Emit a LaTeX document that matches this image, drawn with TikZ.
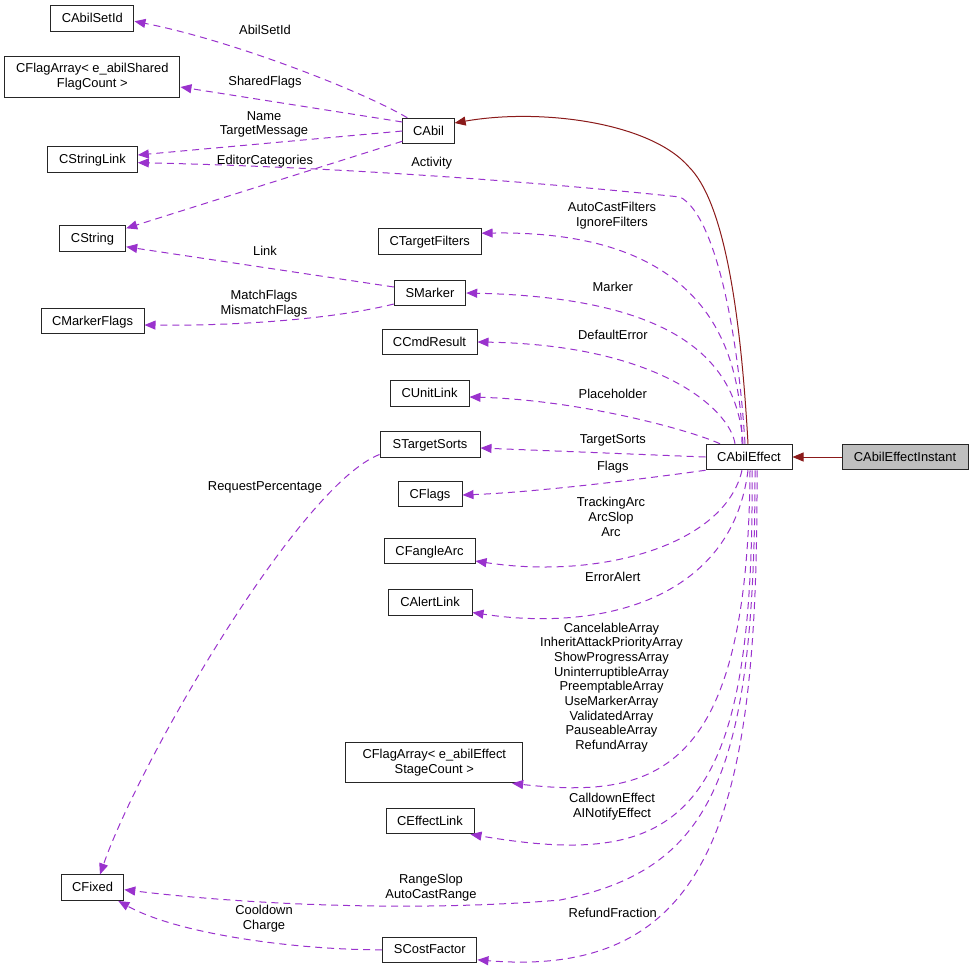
\documentclass[tikz,border=0pt]{standalone}
\usepackage{fontspec}
\setmainfont{Liberation Sans}
\usetikzlibrary{arrows.meta}
\definecolor{membercol}{HTML}{9A32CD}
\definecolor{basecol}{HTML}{8B1A1A}
\newcommand{\dfont}{\fontsize{12.9}{14.7}\selectfont}
\tikzset{
  cls/.style={draw=black!85, line width=1pt, minimum height=25.5pt, inner sep=1pt, align=center, text depth=1pt, font=\dfont},
  cls2/.style={cls, minimum height=40.6pt, text depth=},
  lbl/.style={inner sep=0pt, align=center, font=\dfont},
  usage/.style={membercol, line width=1pt, dash pattern=on 7pt off 5pt, -{Triangle[length=11pt,width=9pt]}},
  inherit/.style={basecol, line width=1pt, -{Triangle[length=11pt,width=9pt]}},
}

\begin{document}
\begin{tikzpicture}[x=1pt,y=-1pt]
\useasboundingbox (0,0) rectangle (973,971);
% classes, left column
\node[cls, minimum width=83.3] (abilsetid) at (92.3,18.3) {CAbilSetId};
\node[cls2, minimum width=175.3] (flagshared) at (92.3,77) {CFlagArray< e\_abilShared\\FlagCount >};
\node[cls, minimum width=89.6] (stringlink) at (92.5,159.7) {CStringLink};
\node[cls, minimum width=66.4] (cstring) at (92.5,238.3) {CString};
\node[cls, minimum width=103] (markerflags) at (92.5,321) {CMarkerFlags};
\node[cls, minimum width=62.6] (cfixed) at (92.5,887.7) {CFixed};
% classes, middle column
\node[cls, minimum width=51.3] (abil) at (428.5,131) {CAbil};
\node[cls, minimum width=102.7] (targetfilters) at (429.7,241.7) {CTargetFilters};
\node[cls, minimum width=71.4] (smarker) at (430,293) {SMarker};
\node[cls, minimum width=95] (cmdresult) at (429.5,342) {CCmdResult};
\node[cls, minimum width=79] (unitlink) at (429.5,393.5) {CUnitLink};
\node[cls, minimum width=100] (targetsorts) at (430,444.5) {STargetSorts};
\node[cls, minimum width=64] (cflags) at (430,494) {CFlags};
\node[cls, minimum width=91] (fanglearc) at (429.5,551) {CFangleArc};
\node[cls, minimum width=84] (alertlink) at (430,602.5) {CAlertLink};
\node[cls2, minimum width=176.7] (flageffect) at (434.3,762.5) {CFlagArray< e\_abilEffect\\StageCount >};
\node[cls, minimum width=88] (effectlink) at (430,821) {CEffectLink};
\node[cls, minimum width=94.3] (costfactor) at (429.8,949.8) {SCostFactor};
% classes, right
\node[cls, minimum width=86] (abileffect) at (749,457) {CAbilEffect};
\node[cls, minimum width=126, fill=black!25] (effectinstant) at (905,457) {CAbilEffectInstant};

% inheritance
\draw[inherit] (effectinstant) -- (abileffect);
\draw[inherit] ([xshift=-1]abileffect.north) .. controls (740,300) and (722,200) .. (689,167)
  .. controls (650,122) and (540,108) .. ([yshift=8]abil.east);

% members of CAbil
\draw[usage] ([xshift=5]abil.north west) .. controls (360,90) and (230,40) .. ([yshift=-3]abilsetid.east);
\draw[usage] ([yshift=9]abil.west) -- ([yshift=-10]flagshared.east);
\draw[usage] (abil.west) -- ([yshift=4.7]stringlink.east);
\draw[usage] ([yshift=3]abil.south west) -- ([yshift=10]cstring.east);

% members of SMarker, STargetSorts, SCostFactor
\draw[usage] ([yshift=6]smarker.west) -- ([yshift=-8.5]cstring.east);
\draw[usage] ([yshift=-11]smarker.west) .. controls (330,320) and (230,326) .. ([yshift=-4]markerflags.east);
\draw[usage] ([yshift=-10]targetsorts.west) .. controls (300,485) and (140,760) .. ([xshift=7.5]cfixed.north);
\draw[usage] (costfactor.west) .. controls (300,950) and (180,935) .. ([xshift=-6]cfixed.south east);

% members of CAbilEffect, upper side
\draw[usage] ([xshift=-4]abileffect.north) .. controls (738,330) and (715,215) .. (680,197)
  .. controls (500,178) and (300,166) .. ([yshift=-3]stringlink.east);
\draw[usage] ([xshift=-7]abileffect.north) .. controls (742,330) and (690,230) .. ([yshift=8.5]targetfilters.east);
\draw[usage] ([xshift=-6]abileffect.north) .. controls (738,370) and (690,298) .. (smarker.east);
\draw[usage] ([xshift=-14]abileffect.north) .. controls (730,410) and (660,345) .. (cmdresult.east);
\draw[usage] ([xshift=-29]abileffect.north) .. controls (690,430) and (580,400) .. ([yshift=-3.5]unitlink.east);
\draw[usage] (abileffect.west) -- ([yshift=-3.5]targetsorts.east);
\draw[usage] (abileffect.south west) .. controls (650,478) and (540,492) .. ([yshift=-1]cflags.east);
% lower side
\draw[usage] ([xshift=-7]abileffect.south) .. controls (725,545) and (600,580) .. ([yshift=-10]fanglearc.east);
\draw[usage] ([xshift=-1]abileffect.south) .. controls (732,600) and (600,632) .. ([yshift=-10]alertlink.east);
\draw[usage] ([xshift=1]abileffect.south) .. controls (748,770) and (660,800) .. ([xshift=-11]flageffect.south east);
\draw[usage] ([xshift=3]abileffect.south) .. controls (755,820) and (680,870) .. ([xshift=-4]effectlink.south east);
\draw[usage] ([xshift=6]abileffect.south) .. controls (755,780) and (710,870) .. (560,900)
  .. controls (420,912) and (250,905) .. ([yshift=-2]cfixed.east);
\draw[usage] ([xshift=8]abileffect.south) .. controls (758,800) and (720,980) .. ([yshift=-10]costfactor.east);

% member names
\node[lbl] (l-abilsetid) at (265,30) {AbilSetId};
\node[lbl] (l-sharedflags) at (265,82) {SharedFlags};
\node[lbl] (l-name) at (264,124.5) {Name\\TargetMessage};
\node[lbl] (l-editorcat) at (265,160.7) {EditorCategories};
\node[lbl] (l-activity) at (431.7,163) {Activity};
\node[lbl] (l-autocast) at (612,216) {AutoCastFilters\\IgnoreFilters};
\node[lbl] (l-link) at (265,251) {Link};
\node[lbl] (l-matchflags) at (264,303.5) {MatchFlags\\MismatchFlags};
\node[lbl] (l-marker) at (612.8,287.3) {Marker};
\node[lbl] (l-defaulterror) at (612.8,335.3) {DefaultError};
\node[lbl] (l-placeholder) at (612.8,394) {Placeholder};
\node[lbl] (l-targetsorts) at (612.8,440) {TargetSorts};
\node[lbl] (l-flags) at (612.8,466.7) {Flags};
\node[lbl] (l-request) at (265,487.4) {RequestPercentage};
\node[lbl] (l-arc) at (611,517) {TrackingArc\\ArcSlop\\Arc};
\node[lbl] (l-erroralert) at (612.8,576.7) {ErrorAlert};
\node[lbl] (l-arrays) at (611.5,687.5) {CancelableArray\\InheritAttackPriorityArray\\ShowProgressArray\\UninterruptibleArray\\PreemptableArray\\UseMarkerArray\\ValidatedArray\\PauseableArray\\RefundArray};
\node[lbl] (l-calldown) at (612,807) {CalldownEffect\\AINotifyEffect};
\node[lbl] (l-rangeslop) at (431,888) {RangeSlop\\AutoCastRange};
\node[lbl] (l-refund) at (612.8,912.7) {RefundFraction};
\node[lbl] (l-cooldown) at (264,918.5) {Cooldown\\Charge};
\end{tikzpicture}
\end{document}
